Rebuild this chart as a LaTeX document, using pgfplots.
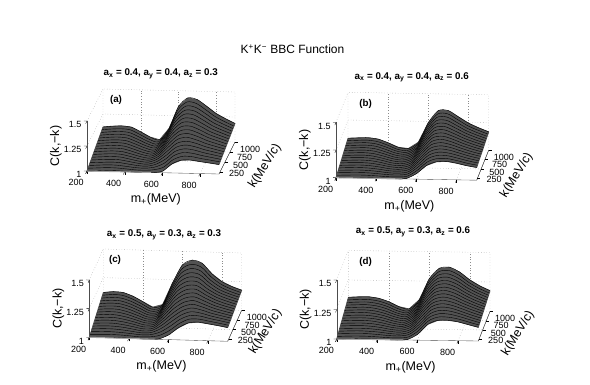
\documentclass[border=0pt]{standalone}
\usepackage{fontspec}
\usepackage{pgfplots}
\usepackage{pgfplotstable}
\pgfplotsset{compat=1.18}
\setmainfont{Liberation Sans}
\pgfplotstableread{
200 1.000 1.008 1.015 1.023 1.030 1.038 1.045 1.053 1.060 1.068 1.075 1.083 1.090 1.098 1.105 1.113 1.120
250 1.005 1.013 1.021 1.028 1.036 1.044 1.052 1.060 1.068 1.075 1.083 1.091 1.099 1.107 1.114 1.122 1.130
300 1.010 1.018 1.026 1.033 1.041 1.049 1.057 1.065 1.073 1.080 1.088 1.096 1.104 1.112 1.119 1.127 1.135
350 1.010 1.017 1.024 1.032 1.039 1.046 1.053 1.060 1.068 1.075 1.082 1.089 1.096 1.103 1.111 1.118 1.125
400 1.005 1.010 1.014 1.019 1.024 1.028 1.033 1.038 1.043 1.047 1.052 1.057 1.061 1.066 1.071 1.075 1.080
450 1.000 1.002 1.004 1.006 1.008 1.009 1.011 1.013 1.015 1.017 1.019 1.021 1.023 1.024 1.026 1.028 1.030
500 1.000 1.000 1.001 1.001 1.001 1.002 1.002 1.002 1.003 1.003 1.003 1.003 1.004 1.004 1.004 1.005 1.005
550 1.000 1.008 1.015 1.023 1.030 1.038 1.045 1.053 1.060 1.068 1.075 1.083 1.090 1.098 1.105 1.113 1.120
600 1.015 1.035 1.056 1.076 1.096 1.117 1.137 1.157 1.178 1.198 1.218 1.238 1.259 1.279 1.299 1.320 1.340
650 1.090 1.111 1.133 1.154 1.175 1.196 1.218 1.239 1.260 1.281 1.303 1.324 1.345 1.366 1.388 1.409 1.430
700 1.130 1.148 1.166 1.183 1.201 1.219 1.237 1.255 1.273 1.290 1.308 1.326 1.344 1.362 1.379 1.397 1.415
750 1.133 1.147 1.160 1.174 1.187 1.201 1.214 1.228 1.242 1.255 1.269 1.282 1.296 1.309 1.323 1.336 1.350
800 1.120 1.130 1.140 1.150 1.160 1.170 1.180 1.190 1.200 1.210 1.220 1.230 1.240 1.250 1.260 1.270 1.280
850 1.108 1.116 1.123 1.131 1.139 1.146 1.154 1.161 1.169 1.177 1.184 1.192 1.199 1.207 1.215 1.222 1.230
900 1.095 1.101 1.106 1.112 1.118 1.123 1.129 1.134 1.140 1.146 1.151 1.157 1.163 1.168 1.174 1.179 1.185
}\tabA
\pgfplotstableread{
200 1.000 1.005 1.011 1.016 1.021 1.027 1.032 1.037 1.043 1.048 1.053 1.058 1.064 1.069 1.074 1.080 1.085
250 1.003 1.008 1.014 1.019 1.025 1.030 1.036 1.041 1.047 1.052 1.057 1.063 1.068 1.074 1.079 1.085 1.090
300 1.005 1.011 1.016 1.022 1.027 1.033 1.038 1.044 1.049 1.055 1.060 1.066 1.071 1.077 1.082 1.088 1.093
350 1.005 1.010 1.015 1.019 1.024 1.029 1.034 1.039 1.044 1.048 1.053 1.058 1.063 1.068 1.072 1.077 1.082
400 1.003 1.006 1.009 1.012 1.015 1.018 1.021 1.024 1.027 1.029 1.032 1.035 1.038 1.041 1.044 1.047 1.050
450 1.000 1.001 1.002 1.002 1.003 1.004 1.005 1.005 1.006 1.007 1.008 1.008 1.009 1.010 1.011 1.011 1.012
500 1.000 1.000 1.000 1.000 1.001 1.001 1.001 1.001 1.001 1.001 1.001 1.001 1.002 1.002 1.002 1.002 1.002
550 1.005 1.008 1.012 1.015 1.019 1.022 1.026 1.029 1.033 1.036 1.039 1.043 1.046 1.050 1.053 1.057 1.060
600 1.050 1.062 1.074 1.086 1.098 1.109 1.121 1.133 1.145 1.157 1.169 1.181 1.193 1.204 1.216 1.228 1.240
650 1.125 1.139 1.153 1.167 1.181 1.195 1.209 1.223 1.238 1.252 1.266 1.280 1.294 1.308 1.322 1.336 1.350
700 1.160 1.172 1.184 1.196 1.208 1.219 1.231 1.243 1.255 1.267 1.279 1.291 1.303 1.314 1.326 1.338 1.350
750 1.165 1.173 1.181 1.189 1.198 1.206 1.214 1.222 1.230 1.238 1.246 1.254 1.263 1.271 1.279 1.287 1.295
800 1.150 1.156 1.161 1.167 1.173 1.178 1.184 1.189 1.195 1.201 1.206 1.212 1.218 1.223 1.229 1.234 1.240
850 1.130 1.134 1.139 1.143 1.148 1.152 1.156 1.161 1.165 1.169 1.174 1.178 1.183 1.187 1.191 1.196 1.200
900 1.115 1.118 1.121 1.124 1.128 1.131 1.134 1.137 1.140 1.143 1.146 1.149 1.153 1.156 1.159 1.162 1.165
}\tabB
\pgfplotstableread{
200 1.000 1.008 1.015 1.023 1.030 1.038 1.045 1.053 1.060 1.068 1.075 1.083 1.090 1.098 1.105 1.113 1.120
250 1.003 1.011 1.019 1.027 1.035 1.043 1.051 1.059 1.067 1.074 1.082 1.090 1.098 1.106 1.114 1.122 1.130
300 1.005 1.013 1.020 1.028 1.035 1.043 1.050 1.058 1.065 1.073 1.080 1.088 1.095 1.103 1.110 1.118 1.125
350 1.005 1.011 1.016 1.022 1.028 1.033 1.039 1.044 1.050 1.056 1.061 1.067 1.073 1.078 1.084 1.089 1.095
400 1.003 1.006 1.009 1.012 1.015 1.018 1.021 1.024 1.027 1.029 1.032 1.035 1.038 1.041 1.044 1.047 1.050
450 1.000 1.000 1.001 1.001 1.001 1.002 1.002 1.002 1.003 1.003 1.003 1.003 1.004 1.004 1.004 1.005 1.005
500 1.000 1.002 1.004 1.006 1.008 1.009 1.011 1.013 1.015 1.017 1.019 1.021 1.023 1.024 1.026 1.028 1.030
550 1.003 1.017 1.030 1.044 1.057 1.071 1.084 1.098 1.112 1.125 1.139 1.152 1.166 1.179 1.193 1.206 1.220
600 1.040 1.061 1.083 1.104 1.125 1.146 1.168 1.189 1.210 1.231 1.253 1.274 1.295 1.316 1.338 1.359 1.380
650 1.105 1.125 1.145 1.165 1.185 1.205 1.225 1.245 1.265 1.285 1.305 1.325 1.345 1.365 1.385 1.405 1.425
700 1.150 1.166 1.181 1.197 1.213 1.228 1.244 1.259 1.275 1.291 1.306 1.322 1.338 1.353 1.369 1.384 1.400
750 1.160 1.169 1.179 1.188 1.198 1.207 1.216 1.226 1.235 1.244 1.254 1.263 1.273 1.282 1.291 1.301 1.310
800 1.148 1.154 1.160 1.166 1.172 1.178 1.184 1.190 1.197 1.203 1.209 1.215 1.221 1.227 1.233 1.239 1.245
850 1.135 1.139 1.144 1.148 1.153 1.157 1.161 1.166 1.170 1.174 1.179 1.183 1.188 1.192 1.196 1.201 1.205
900 1.120 1.123 1.127 1.130 1.134 1.137 1.141 1.144 1.148 1.151 1.154 1.158 1.161 1.165 1.168 1.172 1.175
}\tabC
\pgfplotstableread{
200 1.000 1.006 1.013 1.019 1.026 1.032 1.039 1.045 1.052 1.058 1.064 1.071 1.077 1.084 1.090 1.097 1.103
250 1.003 1.010 1.016 1.023 1.029 1.036 1.042 1.049 1.055 1.062 1.069 1.075 1.082 1.088 1.095 1.101 1.108
300 1.005 1.012 1.018 1.025 1.031 1.038 1.044 1.051 1.057 1.064 1.071 1.077 1.084 1.090 1.097 1.103 1.110
350 1.005 1.011 1.017 1.022 1.028 1.034 1.040 1.046 1.052 1.057 1.063 1.069 1.075 1.081 1.086 1.092 1.098
400 1.003 1.007 1.011 1.016 1.020 1.024 1.028 1.032 1.037 1.041 1.045 1.049 1.053 1.058 1.062 1.066 1.070
450 1.000 1.002 1.004 1.006 1.008 1.009 1.011 1.013 1.015 1.017 1.019 1.021 1.023 1.024 1.026 1.028 1.030
500 1.000 1.001 1.002 1.002 1.003 1.004 1.005 1.005 1.006 1.007 1.008 1.008 1.009 1.010 1.011 1.011 1.012
550 1.005 1.010 1.016 1.021 1.026 1.032 1.037 1.042 1.048 1.053 1.058 1.063 1.069 1.074 1.079 1.085 1.090
600 1.050 1.064 1.078 1.091 1.105 1.119 1.133 1.146 1.160 1.174 1.188 1.201 1.215 1.229 1.243 1.256 1.270
650 1.135 1.149 1.163 1.177 1.191 1.205 1.219 1.233 1.248 1.262 1.276 1.290 1.304 1.318 1.332 1.346 1.360
700 1.170 1.183 1.195 1.208 1.220 1.233 1.245 1.258 1.270 1.283 1.295 1.308 1.320 1.333 1.345 1.358 1.370
750 1.172 1.182 1.192 1.202 1.212 1.221 1.231 1.241 1.251 1.261 1.271 1.281 1.291 1.300 1.310 1.320 1.330
800 1.160 1.167 1.173 1.180 1.186 1.193 1.199 1.206 1.212 1.219 1.226 1.232 1.239 1.245 1.252 1.258 1.265
850 1.138 1.143 1.148 1.152 1.157 1.162 1.167 1.172 1.177 1.181 1.186 1.191 1.196 1.201 1.205 1.210 1.215
900 1.116 1.120 1.124 1.127 1.131 1.135 1.139 1.142 1.146 1.150 1.154 1.157 1.161 1.165 1.169 1.172 1.176
}\tabD
\definecolor{surfgray}{gray}{0.32}
\pgfplotsset{panel/.style={
  clip=false, disabledatascaling, anchor=origin,
  xmin=200,xmax=900,ymin=200,ymax=1000,zmin=1,zmax=1.5,
  xtick={200,400,600,800}, ytick=\empty, ztick={1,1.25,1.5},
  zticklabels={1,1.25,1.5},
  axis x line*=bottom, axis y line*=none, axis z line*=left,
  tick align=outside, major tick length=3pt,
  every tick/.style={black,line width=0.35pt},
  axis line style={black!70,line width=0.35pt},
  tick label style={font=\fontsize{9}{10}\selectfont},
  x tick label style={xshift=-8pt,yshift=-2pt},
  z tick label style={anchor=east,inner sep=1pt,xshift=-3pt,yshift=-1pt},
  /pgf/number format/assume math mode=true,
  /pgf/number format/1000 sep={},
  every axis x label/.style={at={(axis cs:565,200,1)},anchor=center,yshift=-27pt,font=\fontsize{12.5}{13}\selectfont},
  every axis z label/.style={at={(axis cs:200,200,1.25)},anchor=center,rotate=90,yshift=31pt,font=\fontsize{12.5}{13}\selectfont},
  xlabel={m\textsubscript{+}(MeV)}, zlabel={C(k,−k)},
}}
\newcommand{\walls}{%
  \begin{scope}[black!45,line width=0.35pt,dash pattern=on 0.5pt off 2.2pt]
  \draw (axis cs:200,1000,1)--(axis cs:200,1000,1.5)--(axis cs:900,1000,1.5)--(axis cs:900,1000,1);
  \draw (axis cs:200,200,1.5)--(axis cs:200,1000,1.5);
  \draw (axis cs:200,200,1.25)--(axis cs:200,1000,1.25)--(axis cs:900,1000,1.25);
  \draw (axis cs:200,1000,1)--(axis cs:900,1000,1);
  \draw (axis cs:400,1000,1)--(axis cs:400,1000,1.5);
  \draw (axis cs:600,1000,1)--(axis cs:600,1000,1.5);
  \draw (axis cs:800,1000,1)--(axis cs:800,1000,1.5);
  \draw (axis cs:200,200,1)--(axis cs:200,1000,1);
  \draw (axis cs:400,200,1)--(axis cs:400,1000,1);
  \draw (axis cs:600,200,1)--(axis cs:600,1000,1);
  \draw (axis cs:800,200,1)--(axis cs:800,1000,1);
  \draw (axis cs:200,500,1)--(axis cs:900,500,1);
  \draw (axis cs:200,750,1)--(axis cs:900,750,1);
  \end{scope}}
% k axis on the right-hand side of the floor
\newcommand{\kaxis}[2]{%
  \draw[black!70,line width=0.35pt] (axis cs:900,200,1)--(axis cs:900,1000,1);
  \draw[black,line width=0.35pt] (axis cs:900,250,1)--++(3pt,0pt);
  \draw[black,line width=0.35pt] (axis cs:900,500,1)--++(3pt,0pt);
  \draw[black,line width=0.35pt] (axis cs:900,750,1)--++(3pt,0pt);
  \draw[black,line width=0.35pt] (axis cs:900,1000,1)--++(3pt,0pt);
  \begin{scope}[font=\fontsize{9}{10}\selectfont,inner sep=0pt]
  \node[anchor=west] at ([xshift=9pt,yshift=-1pt]axis cs:900,250,1) {250};
  \node[anchor=west] at ([xshift=8pt,yshift=-3pt]axis cs:900,500,1) {500};
  \node[anchor=west] at ([xshift=7pt,yshift=-5pt]axis cs:900,750,1) {750};
  \node[anchor=west] at ([xshift=5pt,yshift=-7pt]axis cs:900,1000,1) {1000};
  \end{scope}
  \node[rotate=58,font=\fontsize{12.5}{13}\selectfont] at ([xshift=#1pt,yshift=#2pt]axis cs:900,600,1) {k(MeV/c)};}
\newcommand{\curves}[1]{%
  \pgfplotsinvokeforeach{1,...,17}{%
    \addplot3[black,line width=0.4pt,mark=none,smooth,tension=0.5,forget plot]
      table[x index=0,y expr={150+50*##1},z index=##1]{#1};}}
\begin{document}
\begin{tikzpicture}[x=1pt,y=1pt]
\path[use as bounding box] (0,0) rectangle (590,384);
\begin{axis}[panel,at={(87pt,213pt)},x={(0.18857pt,-0.00429pt)},y={(0.02pt,0.04pt)},z={(0pt,100pt)}]
\walls
\addplot3[fill=surfgray,draw=surfgray,line width=0.8pt,line join=round,forget plot] coordinates {(200,1000,1.120)(250,1000,1.130)(300,1000,1.135)(350,1000,1.125)(400,1000,1.080)(450,1000,1.030)(500,1000,1.005)(550,1000,1.120)(600,1000,1.340)(650,1000,1.430)(700,1000,1.415)(750,1000,1.350)(800,1000,1.280)(850,1000,1.230)(900,1000,1.185)(900,200,1.095)(850,200,1.108)(800,200,1.120)(750,200,1.133)(700,200,1.130)(650,200,1.090)(600,200,1.015)(550,200,1.000)(500,200,1.000)(450,200,1.000)(400,200,1.005)(350,200,1.010)(300,200,1.010)(250,200,1.005)(200,200,1.000)} --cycle;
\curves{\tabA}
\addplot3[black!35,line width=1pt,mark=none,forget plot] coordinates {(200,200,1)(350,200,1)(540,200,1)};
\kaxis{38}{-8}
\end{axis}
\begin{axis}[panel,at={(336pt,206.3pt)},x={(0.201pt,-0.00357pt)},y={(0.015pt,0.0375pt)},z={(0pt,110.8pt)}]
\walls
\addplot3[fill=surfgray,draw=surfgray,line width=0.8pt,line join=round,forget plot] coordinates {(200,1000,1.085)(250,1000,1.090)(300,1000,1.093)(350,1000,1.082)(400,1000,1.050)(450,1000,1.012)(500,1000,1.002)(550,1000,1.060)(600,1000,1.240)(650,1000,1.350)(700,1000,1.350)(750,1000,1.295)(800,1000,1.240)(850,1000,1.200)(900,1000,1.165)(900,200,1.115)(850,200,1.130)(800,200,1.150)(750,200,1.165)(700,200,1.160)(650,200,1.125)(600,200,1.050)(550,200,1.005)(500,200,1.000)(450,200,1.000)(400,200,1.003)(350,200,1.005)(300,200,1.005)(250,200,1.003)(200,200,1.000)} --cycle;
\curves{\tabB}
\addplot3[black!35,line width=1pt,mark=none,forget plot] coordinates {(200,200,1)(350,200,1)(530,200,1)};
\kaxis{34}{-10}
\end{axis}
\begin{axis}[panel,at={(89.3pt,46.7pt)},x={(0.1977pt,-0.00571pt)},y={(0.0175pt,0.03875pt)},z={(0pt,114.6pt)}]
\walls
\addplot3[fill=surfgray,draw=surfgray,line width=0.8pt,line join=round,forget plot] coordinates {(200,1000,1.120)(250,1000,1.130)(300,1000,1.125)(350,1000,1.095)(400,1000,1.050)(450,1000,1.005)(500,1000,1.030)(550,1000,1.220)(600,1000,1.380)(650,1000,1.425)(700,1000,1.400)(750,1000,1.310)(800,1000,1.245)(850,1000,1.205)(900,1000,1.175)(900,200,1.120)(850,200,1.135)(800,200,1.148)(750,200,1.160)(700,200,1.150)(650,200,1.105)(600,200,1.040)(550,200,1.003)(500,200,1.000)(450,200,1.000)(400,200,1.003)(350,200,1.005)(300,200,1.005)(250,200,1.003)(200,200,1.000)} --cycle;
\curves{\tabC}
\addplot3[black!35,line width=1pt,mark=none,forget plot] coordinates {(200,200,1)(350,200,1)(530,200,1)};
\kaxis{31}{-6}
\end{axis}
\begin{axis}[panel,at={(336.7pt,45pt)},x={(0.2023pt,-0.00286pt)},y={(0.014625pt,0.036875pt)},z={(0pt,118pt)}]
\walls
\addplot3[fill=surfgray,draw=surfgray,line width=0.8pt,line join=round,forget plot] coordinates {(200,1000,1.103)(250,1000,1.108)(300,1000,1.110)(350,1000,1.098)(400,1000,1.070)(450,1000,1.030)(500,1000,1.012)(550,1000,1.090)(600,1000,1.270)(650,1000,1.360)(700,1000,1.370)(750,1000,1.330)(800,1000,1.265)(850,1000,1.215)(900,1000,1.176)(900,200,1.116)(850,200,1.138)(800,200,1.160)(750,200,1.172)(700,200,1.170)(650,200,1.135)(600,200,1.050)(550,200,1.005)(500,200,1.000)(450,200,1.000)(400,200,1.003)(350,200,1.005)(300,200,1.005)(250,200,1.003)(200,200,1.000)} --cycle;
\curves{\tabD}
\addplot3[black!35,line width=1pt,mark=none,forget plot] coordinates {(200,200,1)(350,200,1)(530,200,1)};
\kaxis{34}{-7}
\end{axis}
\node[font=\fontsize{12}{13}\selectfont] at (292.5pt,335pt) {K\textsuperscript{+}K\textsuperscript{−} BBC Function};
\begin{scope}[font=\fontsize{9.8}{11}\selectfont\bfseries]
\node at (160.7pt,310pt) {a\textsubscript{x} = 0.4, a\textsubscript{y} = 0.4, a\textsubscript{z} = 0.3};
\node at (411.7pt,306.7pt) {a\textsubscript{x} = 0.4, a\textsubscript{y} = 0.4, a\textsubscript{z} = 0.6};
\node at (164pt,149pt) {a\textsubscript{x} = 0.5, a\textsubscript{y} = 0.3, a\textsubscript{z} = 0.3};
\node at (413pt,152pt) {a\textsubscript{x} = 0.5, a\textsubscript{y} = 0.3, a\textsubscript{z} = 0.6};
\node at (116pt,284pt) {(a)};
\node at (365.7pt,279.7pt) {(b)};
\node at (115pt,124pt) {(c)};
\node at (365.7pt,122.3pt) {(d)};
\end{scope}
\end{tikzpicture}
\end{document}
